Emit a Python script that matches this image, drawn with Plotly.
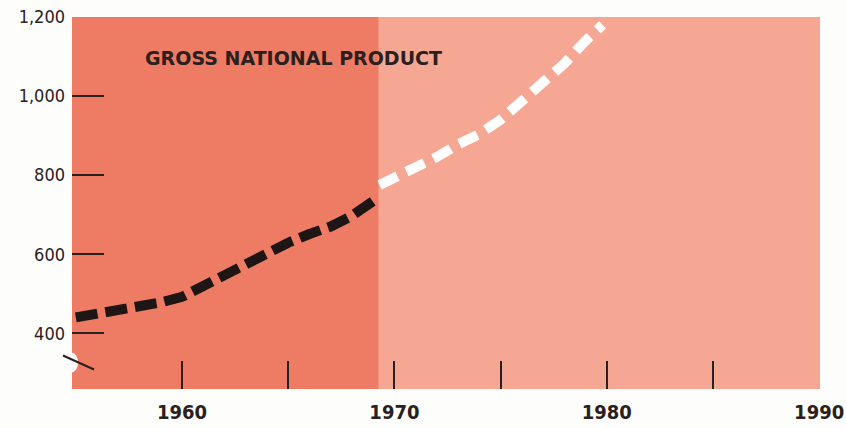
import plotly.graph_objects as go

# ---- data ----
ACTUAL_YEARS = [1955, 1956, 1957, 1958, 1959, 1960, 1961, 1962, 1963, 1964,
                1965, 1966, 1967, 1968, 1969, 1969.2]
ACTUAL_GNP = [440, 448, 458, 468, 478, 492, 520, 548, 577, 604,
              629, 651, 670, 697, 733, 742]

PROJ_YEARS = [1969.3, 1970, 1971, 1972, 1973, 1974, 1975, 1976, 1977, 1978,
              1979, 1979.8]
PROJ_GNP = [775, 792, 818, 846, 878, 904, 940, 985, 1032, 1082, 1140, 1180]

Y_TICKS = [400, 600, 800, 1000, 1200]
Y_TICK_TEXT = ["400", "600", "800", "1,000", "1,200"]
X_TICK_MARKS = [1960, 1965, 1970, 1975, 1980, 1985]
X_LABEL_YEARS = [1960, 1970, 1980, 1990]
X_LABEL_TEXT = ["1960", "1970", "1980", "1990"]
TITLE = "GROSS NATIONAL PRODUCT"
ACTUAL_END = 1969.25
AXIS_BREAK_VALUE = 326

X_RANGE = [1954.82, 1990.04]
Y_RANGE = [259, 1200]

DARK = "#EE7B63"
LIGHT = "#F6A794"
INK = "#2A2020"
PAPER = "#FDFDFB"
NARROW = "DejaVu Sans Condensed, Liberation Sans Narrow, Arial Narrow, sans-serif"

fig = go.Figure()
fig.add_trace(go.Scatter(
    x=ACTUAL_YEARS, y=ACTUAL_GNP, mode="lines",
    line=dict(color="#1E1614", width=10, dash="22px,8px"),
    hoverinfo="skip", showlegend=False))
fig.add_trace(go.Scatter(
    x=PROJ_YEARS, y=PROJ_GNP, mode="lines",
    line=dict(color="#FFFFFF", width=10, dash="20px,10px"),
    hoverinfo="skip", showlegend=False))
# invisible trace to carry the label axis
fig.add_trace(go.Scatter(
    x=[X_RANGE[0]], y=[Y_RANGE[0]], xaxis="x2", mode="markers",
    marker=dict(opacity=0), hoverinfo="skip", showlegend=False))

fig.update_layout(
    width=846, height=428,
    margin=dict(l=72, r=26, t=17, b=39, autoexpand=False),
    paper_bgcolor=PAPER, plot_bgcolor=LIGHT,
    xaxis=dict(range=X_RANGE, tickvals=X_TICK_MARKS, showticklabels=False,
               ticks="inside", ticklen=28, tickwidth=2, tickcolor=INK,
               automargin=False,
               showgrid=False, zeroline=False, showline=False, fixedrange=True),
    xaxis2=dict(range=X_RANGE, overlaying="x", side="bottom",
                tickvals=X_LABEL_YEARS, ticktext=X_LABEL_TEXT, ticks="",
                ticklabelstandoff=9, automargin=False,
                tickfont=dict(family=NARROW, size=20, color=INK, weight="bold"),
                showgrid=False, zeroline=False, showline=False),
    yaxis=dict(range=Y_RANGE, tickvals=Y_TICKS, ticktext=Y_TICK_TEXT,
               ticks="inside", ticklen=32, tickwidth=2, tickcolor=INK,
               ticklabelstandoff=6, automargin=False,
               tickfont=dict(family=NARROW, size=18, color=INK),
               showgrid=False, zeroline=False, showline=False),
    shapes=[
        dict(type="rect", xref="x", yref="paper", x0=X_RANGE[0], x1=ACTUAL_END,
             y0=0, y1=1, fillcolor=DARK, line=dict(width=0), layer="below"),
        dict(type="circle", xref="paper", yref="y", xsizemode="pixel",
             ysizemode="pixel", xanchor=0, yanchor=AXIS_BREAK_VALUE,
             x0=-7, x1=6, y0=-10, y1=10, fillcolor=PAPER,
             line=dict(width=0), layer="above"),
        dict(type="line", xref="paper", yref="y", xsizemode="pixel",
             ysizemode="pixel", xanchor=0, yanchor=AXIS_BREAK_VALUE,
             x0=-9, x1=22, y0=7, y1=-7, line=dict(color=INK, width=2)),
    ],
    annotations=[
        dict(text=TITLE, xref="paper", yref="paper", x=0.095, y=0.89,
             xanchor="left", yanchor="middle", showarrow=False,
             font=dict(family="DejaVu Sans", size=19, color=INK, weight="bold")),
    ],
)

fig.write_html("out.html")
